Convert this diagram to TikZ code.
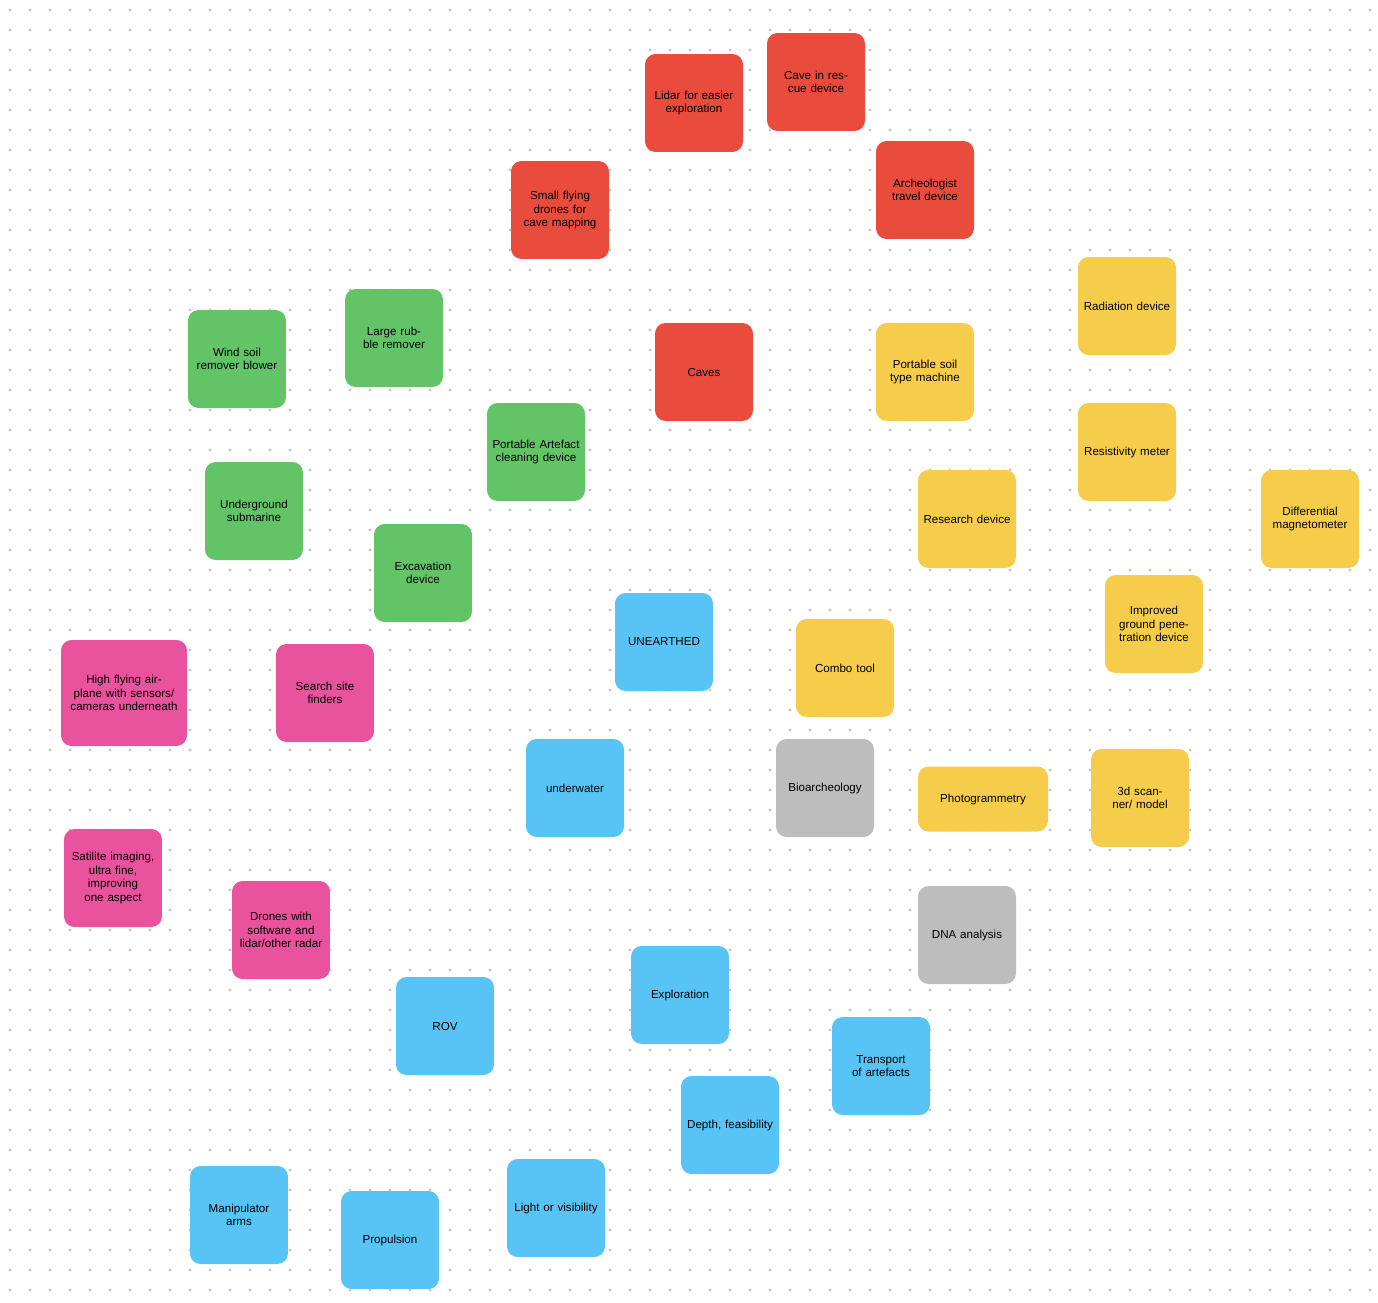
\documentclass[tikz,border=0pt]{standalone}
\usepackage{fontspec}
\setmainfont{Liberation Sans}
\usetikzlibrary{backgrounds}
\definecolor{cred}{HTML}{E94B3C}
\definecolor{cgreen}{HTML}{62C466}
\definecolor{cblue}{HTML}{57C4F5}
\definecolor{cyel}{HTML}{F6CD4A}
\definecolor{cpink}{HTML}{E9539E}
\definecolor{cgray}{HTML}{BDBDBD}
\begin{document}
\begin{tikzpicture}[x=0.02cm,y=-0.02cm,
 box/.style={rounded corners=6pt,minimum width=1.96cm,minimum height=1.96cm,text width=1.8cm,align=center,font=\fontsize{6.6}{7.6}\selectfont,inner sep=1pt},
 red/.style={box,fill=cred}, green/.style={box,fill=cgreen}, blue/.style={box,fill=cblue},
 yel/.style={box,fill=cyel}, pink/.style={box,fill=cpink}, gray/.style={box,fill=cgray},
 ln/.style={line width=0.9pt,black}]
\useasboundingbox[fill=white] (0,0) rectangle (1378,1302);
\foreach \i in {0,...,68}{\foreach \j in {0,...,64}{\fill[gray!45] (10+20*\i,10+20*\j) circle (0.9pt);}}
\node[red] (caves) at (704,372) {Caves};
\node[red] (lidar) at (694,103) {Lidar for easier exploration};
\node[red] (rescue) at (816,82) {Cave in rescue device};
\node[red] (drones) at (560,210) {Small flying drones for cave mapping};
\node[red] (arch) at (925,190) {Archeologist travel device};
\node[green] (wind) at (237,359) {Wind soil remover blower};
\node[green] (rubble) at (394,338) {Large rubble remover};
\node[green] (clean) at (536,452) {Portable Artefact cleaning device};
\node[green] (sub) at (254,511) {Underground submarine};
\node[green] (exc) at (423,573) {Excavation device};
\node[blue] (un) at (664,642) {UNEARTHED};
\node[pink] (search) at (325,693) {Search site finders};
\node[pink,minimum width=2.52cm,minimum height=2.12cm,text width=2.3cm] (high) at (124,693) {High flying airplane with sensors/ cameras underneath};
\node[pink] (sat) at (113,878) {Satilite imaging, ultra fine, improving one aspect};
\node[pink] (dr) at (281,930) {Drones with software and lidar/other radar};
\node[blue] (uw) at (575,788) {underwater};
\node[gray] (bio) at (825,788) {Bioarcheology};
\node[gray] (dna) at (967,935) {DNA analysis};
\node[blue] (rov) at (445,1026) {ROV};
\node[blue] (expl) at (680,995) {Exploration};
\node[blue] (trans) at (881,1066) {Transport of artefacts};
\node[blue] (depth) at (730,1125) {Depth, feasibility};
\node[blue] (man) at (239,1215) {Manipulator arms};
\node[blue] (prop) at (390,1240) {Propulsion};
\node[blue] (light) at (556,1208) {Light or visibility};
\node[yel] (res) at (967,519) {Research device};
\node[yel] (soil) at (925,372) {Portable soil type machine};
\node[yel] (rad) at (1127,306) {Radiation device};
\node[yel] (rest) at (1127,452) {Resistivity meter};
\node[yel] (diff) at (1310,519) {Differential magnetometer};
\node[yel] (imp) at (1154,624) {Improved ground penetration device};
\node[yel] (combo) at (845,668) {Combo tool};
\node[yel,minimum width=2.6cm,minimum height=1.3cm,text width=2.4cm] (photo) at (983,799) {Photogrammetry};
\node[yel] (scan) at (1140,798) {3d scanner/ model};
\begin{scope}[on background layer]
\foreach \a/\b in {caves/un,caves/lidar,caves/rescue,caves/drones,caves/arch,
 exc/un,exc/wind,exc/rubble,exc/clean,exc/sub,
 search/un,search/high,search/sat,search/dr,
 uw/un,uw/rov,uw/expl,bio/un,bio/dna,
 res/un,res/soil,res/rad,res/rest,res/diff,res/imp,res/combo,res/photo,res/scan,
 rov/man,rov/prop,rov/light,expl/trans,expl/depth}
 \draw[ln] (\a) -- (\b);
\end{scope}
\end{tikzpicture}
\end{document}
